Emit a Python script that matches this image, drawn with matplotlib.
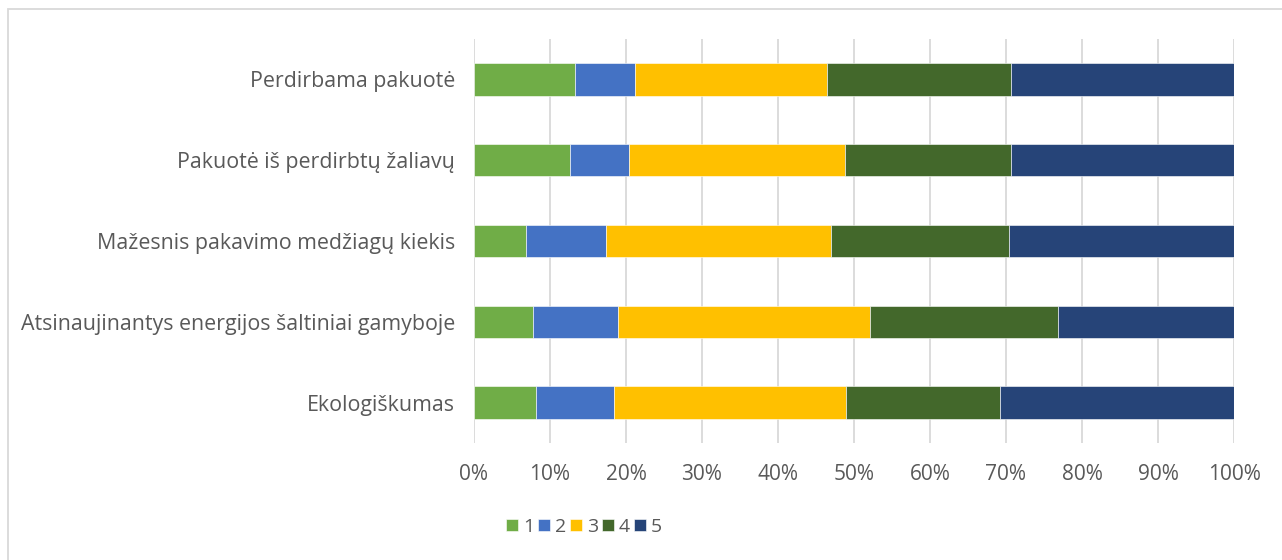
import matplotlib.pyplot as plt
from matplotlib.patches import Rectangle
from matplotlib.ticker import PercentFormatter

categories = [
    'Ekologiškumas',
    'Atsinaujinantys energijos šaltiniai gamyboje',
    'Mažesnis pakavimo medžiagų kiekis',
    'Pakuotė iš perdirbtų žaliavų',
    'Perdirbama pakuotė',
]
series_names = ['1', '2', '3', '4', '5']
s1 = [8.2, 7.7, 6.9, 12.6, 13.3]
s2 = [10.2, 11.2, 10.5, 7.8, 7.9]
s3 = [30.6, 33.2, 29.6, 28.4, 25.3]
s4 = [20.2, 24.8, 23.4, 21.9, 24.2]
s5 = [30.8, 23.1, 29.6, 29.3, 29.3]
series = [s1, s2, s3, s4, s5]
colors = ['#70AD47', '#4472C4', '#FFC000', '#43682B', '#264478']

plt.rcParams['font.family'] = ['Open Sans', 'DejaVu Sans']
text_color = '#595959'

fig = plt.figure(figsize=(12.82, 5.60), dpi=100)
ax = fig.add_axes([474 / 1282, 1 - 443 / 560, 760 / 1282, 404 / 560])

y = range(len(categories))
left = [0.0] * len(categories)
handles = []
for name, vals, c in zip(series_names, series, colors):
    b = ax.barh(y, vals, left=left, height=0.4, color=c, label=name,
                edgecolor='white', linewidth=0.4, zorder=3)
    handles.append(b)
    left = [l + v for l, v in zip(left, vals)]

ax.set_xlim(0, 100)
ax.set_ylim(-0.5, len(categories) - 0.5)
ax.set_xticks(range(0, 101, 10))
ax.xaxis.set_major_formatter(PercentFormatter(decimals=0))
ax.set_yticks(list(y))
ax.set_yticklabels(categories)
ax.grid(axis='x', color='#D9D9D9', linewidth=1.3, zorder=0)
for s in ax.spines.values():
    s.set_visible(False)
ax.tick_params(axis='both', length=0, labelsize=15, colors=text_color)
ax.tick_params(axis='y', labelsize=15.4, pad=13.5)
ax.tick_params(axis='x', pad=15)

fig.legend(handles=handles, labels=series_names, loc='center',
           bbox_to_anchor=(584 / 1282, 1 - 527 / 560), ncol=5,
           frameon=False, fontsize=14, handlelength=0.62,
           handleheight=0.62, handletextpad=0.25, columnspacing=0.2,
           labelcolor=text_color)

# light frame around the chart area
fig.patches.append(Rectangle((8 / 1282, -0.1), 1.2, 1.1 - 9 / 560,
                             transform=fig.transFigure, fill=False,
                             edgecolor='#D9D9D9', linewidth=1.3))

fig.savefig('out.png', dpi=100, facecolor='white')
